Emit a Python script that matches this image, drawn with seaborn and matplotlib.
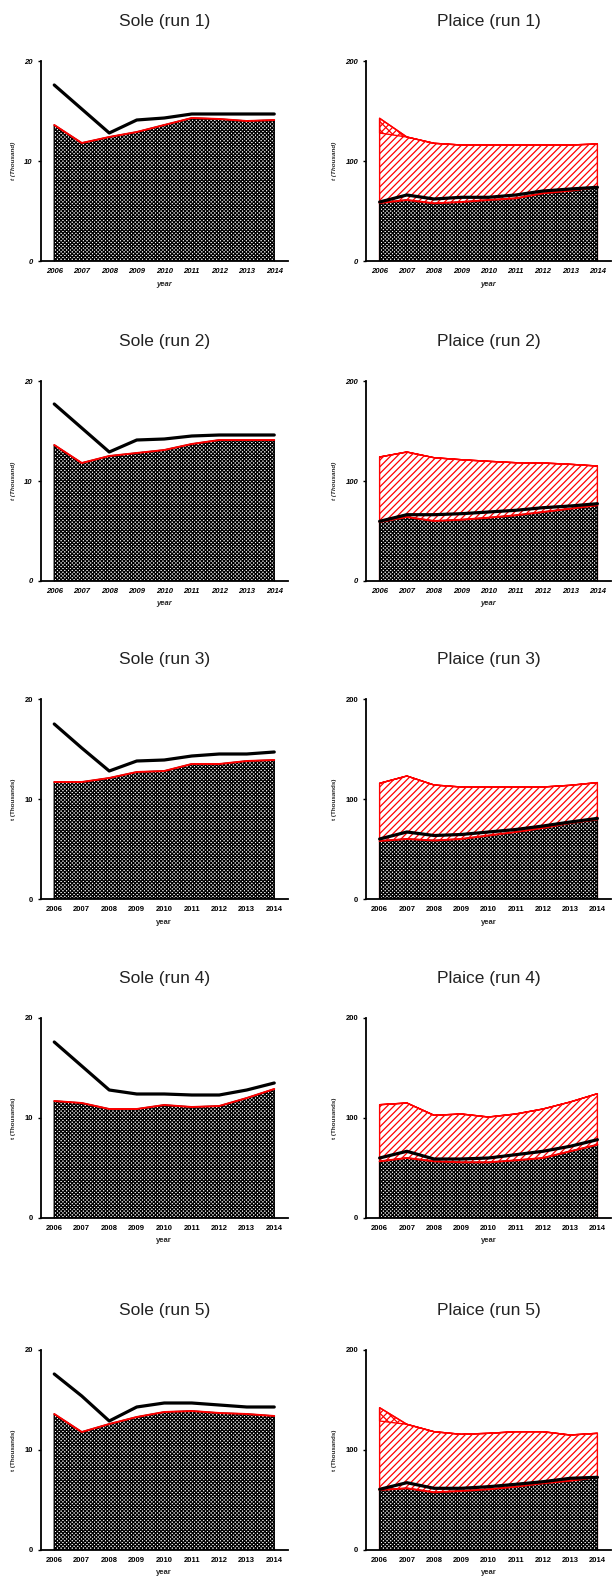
import matplotlib
matplotlib.use("Agg")
import matplotlib.pyplot as plt
import seaborn as sns
import numpy as np

sns.set_style("white")
plt.rcParams["font.family"] = ["Liberation Sans", "DejaVu Sans"]
plt.rcParams["hatch.linewidth"] = 0.9

years = [2006, 2007, 2008, 2009, 2010, 2011, 2012, 2013, 2014]

# Sole (thousand t): landed catch (hatched area) and total catch (thick line)
sole_landed = [
    [13.6, 11.8, 12.4, 12.9, 13.6, 14.3, 14.2, 14.0, 14.1],
    [13.6, 11.8, 12.5, 12.8, 13.1, 13.7, 14.1, 14.1, 14.1],
    [11.7, 11.7, 12.1, 12.7, 12.8, 13.5, 13.5, 13.8, 13.9],
    [11.7, 11.5, 10.9, 10.9, 11.3, 11.1, 11.2, 12.0, 12.9],
    [13.6, 11.8, 12.6, 13.3, 13.8, 13.9, 13.7, 13.6, 13.4],
]
sole_catch = [
    [17.6, 15.2, 12.8, 14.1, 14.3, 14.7, 14.7, 14.7, 14.7],
    [17.7, 15.3, 12.9, 14.1, 14.2, 14.5, 14.6, 14.6, 14.6],
    [17.5, 15.1, 12.8, 13.8, 13.9, 14.3, 14.5, 14.5, 14.7],
    [17.6, 15.2, 12.8, 12.4, 12.4, 12.3, 12.3, 12.8, 13.5],
    [17.6, 15.4, 12.9, 14.3, 14.7, 14.7, 14.5, 14.3, 14.3],
]

# Plaice (thousand t): quota (red hatched), lower quota bound, landed catch, total catch
plaice_quota = [
    [142.7, 124.0, 117.7, 116.0, 116.0, 116.0, 116.0, 116.0, 117.0],
    [124.0, 129.0, 123.3, 121.3, 119.7, 118.3, 118.0, 116.7, 115.0],
    [115.7, 123.0, 114.0, 112.0, 112.0, 112.0, 112.0, 113.7, 116.4],
    [113.3, 115.0, 102.7, 104.0, 101.0, 104.0, 109.0, 116.0, 124.3],
    [142.3, 125.7, 118.3, 115.7, 116.7, 118.3, 118.3, 115.0, 116.7],
]
plaice_quota_low = [
    [128.0, 124.0, 117.7, 116.0, 116.0, 116.0, 116.0, 116.0, 117.0],
    [124.0, 129.0, 123.3, 121.3, 119.7, 118.3, 118.0, 116.7, 115.0],
    [115.7, 123.0, 114.0, 112.0, 112.0, 112.0, 112.0, 113.7, 116.4],
    [113.3, 115.0, 102.7, 104.0, 101.0, 104.0, 109.0, 116.0, 124.3],
    [129.0, 125.7, 118.3, 115.7, 116.7, 118.3, 118.3, 115.0, 116.7],
]
plaice_landed = [
    [58.0, 61.0, 57.7, 59.0, 61.0, 62.7, 67.7, 70.3, 73.7],
    [59.0, 64.0, 60.0, 61.3, 63.3, 65.7, 69.0, 72.3, 75.7],
    [58.0, 60.0, 58.5, 60.0, 63.5, 67.0, 71.0, 76.0, 79.6],
    [56.7, 60.0, 56.7, 55.7, 55.7, 57.7, 60.0, 66.7, 73.3],
    [60.0, 61.7, 57.7, 59.0, 60.7, 63.3, 66.7, 69.3, 72.7],
]
plaice_catch = [
    [59.0, 66.0, 62.0, 63.7, 63.7, 66.0, 70.0, 72.0, 73.7],
    [59.7, 66.3, 66.3, 67.3, 69.0, 70.7, 73.3, 75.0, 77.3],
    [60.0, 67.0, 63.5, 64.5, 67.0, 69.5, 73.0, 77.0, 80.6],
    [60.0, 66.7, 59.0, 59.0, 60.0, 63.3, 66.7, 71.7, 78.3],
    [60.7, 67.3, 61.7, 61.7, 63.3, 65.7, 68.3, 71.7, 72.7],
]

year_ticks = [str(y) for y in years]
ylabels = ["t (Thousand)", "t (Thousand)", "t (Thousands)", "t (Thousands)", "t (Thousands)"]

W, H = 612, 1580
fig = plt.figure(figsize=(W / 100, H / 100), dpi=100)
row_tops = [61, 381, 699, 1018, 1350]
col_lefts = [40.5, 366]
col_widths = [247.5, 245]
ax_h = 200


def style_axes(ax, ymax, ylabel, italic):
    ax.set_xlim(2005.5, 2014.5)
    ax.set_ylim(0, ymax)
    ax.set_yticks([0, ymax / 2, ymax])
    ax.set_yticklabels([f"{v:g}" for v in (0, ymax / 2, ymax)])
    ax.set_xticks(years)
    ax.set_xticklabels(year_ticks)
    for s in ("top", "right"):
        ax.spines[s].set_visible(False)
    for s in ("left", "bottom"):
        ax.spines[s].set_color("black")
        ax.spines[s].set_linewidth(1.3)
    ax.tick_params(axis="y", direction="out", length=2.5, width=1, pad=3,
                   labelsize=5.5, left=True, colors="black")
    ax.tick_params(axis="x", direction="in", length=1.5, width=0.8, pad=5,
                   labelsize=5.5, bottom=True, colors="black")
    style = "italic" if italic else "normal"
    for lab in ax.get_xticklabels() + ax.get_yticklabels():
        lab.set_fontweight("bold")
        lab.set_fontstyle(style)
    ax.set_xlabel("year", fontsize=5.5, fontweight="bold", labelpad=4, fontstyle=style)
    ax.set_ylabel(ylabel, fontsize=4.5, fontweight="bold", labelpad=6, fontstyle=style)
    ax.grid(False)
    ax.set_facecolor("white")


for r in range(5):
    for c in range(2):
        top = row_tops[r]
        rect = [col_lefts[c] / W, 1 - (top + ax_h) / H, col_widths[c] / W, ax_h / H]
        ax = fig.add_axes(rect)
        if c == 0:
            landed, catch = sole_landed[r], sole_catch[r]
            ymax = 20
            title = f"Sole (run {r + 1})"
        else:
            landed, catch = plaice_landed[r], plaice_catch[r]
            ymax = 200
            title = f"Plaice (run {r + 1})"
            # quota band, cross-hatched where the upper and lower bounds differ
            ax.fill_between(years, 0, plaice_quota[r], facecolor="none",
                            edgecolor="red", hatch="/////", linewidth=1.0, zorder=1)
            ax.fill_between(years, plaice_quota_low[r], plaice_quota[r], facecolor="none",
                            edgecolor="red", hatch="\\\\\\\\", linewidth=1.0, zorder=1)
        # landed catch area
        ax.fill_between(years, 0, landed, facecolor="white", edgecolor="black",
                        hatch="xxxxxxxxx", linewidth=1.0, zorder=2)
        sns.lineplot(x=years, y=landed, ax=ax, color="red", linewidth=1.4, zorder=3)
        sns.lineplot(x=years, y=catch, ax=ax, color="black", linewidth=2.3, zorder=4)
        style_axes(ax, ymax, ylabels[r], italic=(r < 2))
        ax.set_title(title, fontsize=12.5, pad=25, color="#222222")

fig.savefig("out.png", dpi=100, facecolor="white")
